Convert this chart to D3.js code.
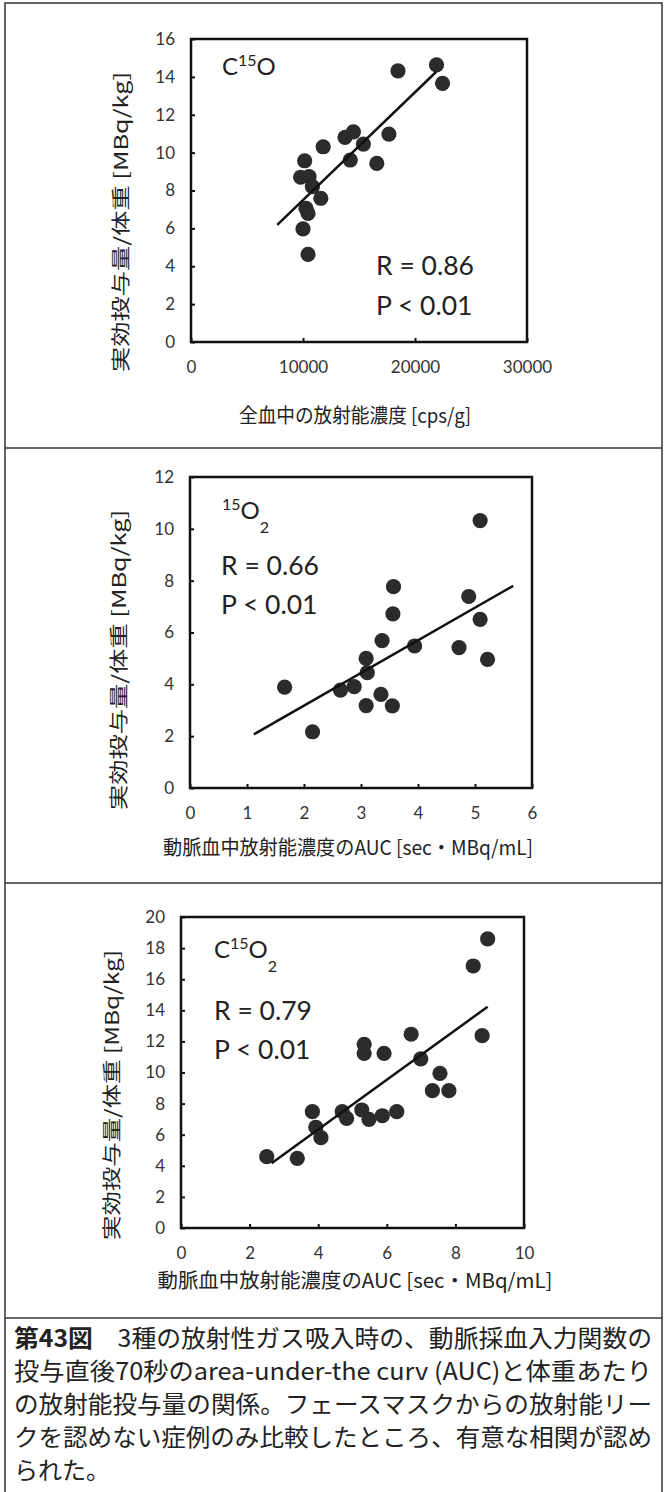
<!DOCTYPE html>
<html><head><meta charset="utf-8">
<script src="https://cdn.jsdelivr.net/npm/d3@7"></script>
<style>body{margin:0;background:#fff}svg{display:block}</style>
</head><body><svg id="c" width="668" height="1492"></svg>
<script>
// ---------- Panel 1: C15O ----------
const p1X = [18480, 21920, 22460, 10150, 11800, 9790, 10540, 10840, 11590, 10270, 10450, 10000, 10450, 13750, 14500, 14220, 15390, 16590, 17670];
const p1Y = [14.32, 14.63, 13.66, 9.57, 10.31, 8.70, 8.73, 8.20, 7.59, 7.06, 6.79, 5.97, 4.63, 10.81, 11.10, 9.61, 10.45, 9.43, 10.98];
const p1FitX = [7700, 21900];
const p1FitY = [6.18, 14.27];
const p1XTicks = [0, 10000, 20000, 30000];
const p1YTicks = [0, 2, 4, 6, 8, 10, 12, 14, 16];

// ---------- Panel 2: 15O2 ----------
const p2X = [1.66, 2.15, 2.64, 2.88, 3.09, 3.11, 3.09, 3.37, 3.35, 3.57, 3.56, 3.55, 3.94, 4.72, 4.89, 5.09, 5.09, 5.22];
const p2Y = [3.89, 2.17, 3.78, 3.91, 5.00, 4.45, 3.18, 5.69, 3.61, 7.77, 6.72, 3.17, 5.48, 5.42, 7.39, 6.51, 10.32, 4.96];
const p2FitX = [1.12, 5.67];
const p2FitY = [2.07, 7.80];
const p2XTicks = [0, 1, 2, 3, 4, 5, 6];
const p2YTicks = [0, 2, 4, 6, 8, 10, 12];

// ---------- Panel 3: C15O2 ----------
const p3X = [8.94, 8.52, 8.78, 6.71, 6.99, 5.34, 5.34, 5.92, 7.55, 7.33, 7.81, 6.29, 5.87, 5.48, 5.27, 4.83, 4.70, 3.83, 3.93, 4.08, 2.50, 3.39];
const p3Y = [18.59, 16.85, 12.37, 12.46, 10.87, 11.81, 11.23, 11.23, 9.95, 8.83, 8.83, 7.48, 7.22, 6.99, 7.59, 7.05, 7.48, 7.48, 6.48, 5.81, 4.59, 4.48];
const p3FitX = [2.64, 8.94];
const p3FitY = [4.16, 14.23];
const p3XTicks = [0, 2, 4, 6, 8, 10];
const p3YTicks = [0, 2, 4, 6, 8, 10, 12, 14, 16, 18, 20];

// ---------- Texts ----------
const yLabel = "実効投与量/体重 [MBq/kg]";
const xLabel1 = "全血中の放射能濃度 [cps/g]";
const xLabel2 = "動脈血中放射能濃度のAUC [sec・MBq/mL]";
const stats = [["R = 0.86", "P < 0.01"], ["R = 0.66", "P < 0.01"], ["R = 0.79", "P < 0.01"]];
const captionHead = "第43図";
const captionLines = [
  "　3種の放射性ガス吸入時の、動脈採血入力関数の",
  "投与直後70秒のarea-under-the curv (AUC)と体重あたり",
  "の放射能投与量の関係。フェースマスクからの放射能リー",
  "クを認めない症例のみ比較したところ、有意な相関が認め",
  "られた。"
];

const svg = d3.select("#c");
const NUM = "Lato, 'Open Sans', sans-serif";
const CJK = "'Noto Sans CJK JP', 'Noto Sans', sans-serif";
const INK = "#222";

// outer frame and dividers
svg.append("rect").attr("x", 5).attr("y", 3).attr("width", 657).attr("height", 1500)
  .attr("fill", "none").attr("stroke", "#333").attr("stroke-width", 1.5);
[448, 883, 1318].forEach(v => svg.append("line").attr("x1", 5).attr("x2", 662)
  .attr("y1", v).attr("y2", v).attr("stroke", "#333").attr("stroke-width", 1.5));

function panel(cfg) {
  const x = d3.scaleLinear().domain(cfg.xDom).range([cfg.L, cfg.R]);
  const y = d3.scaleLinear().domain(cfg.yDom).range([cfg.B, cfg.T]);
  const g = svg.append("g");

  const ax = g.append("g").attr("transform", `translate(0,${cfg.B})`)
    .call(d3.axisBottom(x).tickValues(cfg.xTicks).tickSizeInner(-4).tickSizeOuter(0).tickPadding(19).tickFormat(d3.format("d")));
  const ay = g.append("g").attr("transform", `translate(${cfg.L},0)`)
    .call(d3.axisLeft(y).tickValues(cfg.yTicks).tickSizeInner(-4).tickSizeOuter(0).tickPadding(16).tickFormat(d3.format("d")));
  [ax, ay].forEach(a => {
    a.select(".domain").remove();
    a.selectAll("line").attr("stroke", "#111").attr("stroke-width", 2);
    a.selectAll("text").attr("font-family", NUM).attr("font-size", 17).attr("fill", "#333");
  });

  g.append("rect").attr("x", cfg.L).attr("y", cfg.T).attr("width", cfg.R - cfg.L).attr("height", cfg.B - cfg.T)
    .attr("fill", "none").attr("stroke", "#111").attr("stroke-width", 2.5);

  g.append("g").selectAll("circle").data(cfg.xs.map((v, i) => [v, cfg.ys[i]])).join("circle")
    .attr("cx", d => x(d[0])).attr("cy", d => y(d[1])).attr("r", 7.6).attr("fill", "#2b2b2b");

  g.append("line").attr("x1", x(cfg.fitX[0])).attr("y1", y(cfg.fitY[0]))
    .attr("x2", x(cfg.fitX[1])).attr("y2", y(cfg.fitY[1])).attr("stroke", "#111").attr("stroke-width", 2.5);

  // y label
  g.append("text").attr("transform", `translate(${cfg.ylx},${cfg.ylc}) rotate(-90)`)
    .attr("text-anchor", "middle").attr("dy", "0.35em").attr("font-family", CJK).attr("font-size", 19)
    .attr("fill", INK).attr("textLength", cfg.yll).attr("lengthAdjust", "spacingAndGlyphs").text(yLabel);
  // x label
  g.append("text").attr("x", cfg.xlx).attr("y", cfg.xly).attr("text-anchor", "middle")
    .attr("font-family", CJK).attr("font-size", 20).attr("fill", INK)
    .attr("textLength", cfg.xll).attr("lengthAdjust", "spacingAndGlyphs").text(cfg.xLabel);

  // gas label
  const t = g.append("text").attr("x", cfg.gx).attr("y", cfg.gy).attr("font-family", NUM).attr("font-size", 24).attr("fill", INK);
  cfg.gas.forEach(p => {
    const ts = t.append("tspan").text(p[0]);
    if (p[1] === "sup") ts.attr("font-size", 16).attr("dy", -9);
    else if (p[1] === "sub") ts.attr("font-size", 16).attr("dy", 14);
    else if (p[1] === "back") ts.attr("dy", 9);
  });
  // stats
  cfg.stats.forEach((s, i) => g.append("text").attr("x", cfg.sx).attr("y", cfg.sy[i])
    .attr("font-family", NUM).attr("font-size", 26.5).attr("fill", INK).text(s));
}

panel({xDom: [0, 30000], yDom: [0, 16], L: 191, R: 527, T: 39, B: 342,
  xs: p1X, ys: p1Y, fitX: p1FitX, fitY: p1FitY, xTicks: p1XTicks, yTicks: p1YTicks,
  ylx: 121, ylc: 222, yll: 300, xLabel: xLabel1, xlx: 355, xly: 423, xll: 232,
  gas: [["C", ""], ["15", "sup"], ["O", "back"]], gx: 222, gy: 75,
  stats: stats[0], sx: 376, sy: [275, 315]});

panel({xDom: [0, 6], yDom: [0, 12], L: 190, R: 532, T: 477, B: 788,
  xs: p2X, ys: p2Y, fitX: p2FitX, fitY: p2FitY, xTicks: p2XTicks, yTicks: p2YTicks,
  ylx: 119, ylc: 660, yll: 300, xLabel: xLabel2, xlx: 348, xly: 855, xll: 370,
  gas: [["15", "sup"], ["O", "back"], ["2", "sub"]], gx: 222, gy: 519,
  stats: stats[1], sx: 221, sy: [575, 614]});

panel({xDom: [0, 10], yDom: [0, 20], L: 181, R: 524, T: 917, B: 1228,
  xs: p3X, ys: p3Y, fitX: p3FitX, fitY: p3FitY, xTicks: p3XTicks, yTicks: p3YTicks,
  ylx: 112, ylc: 1095, yll: 290, xLabel: xLabel2, xlx: 355, xly: 1288, xll: 395,
  gas: [["C", ""], ["15", "sup"], ["O", "back"], ["2", "sub"]], gx: 214, gy: 958,
  stats: stats[2], sx: 214, sy: [1020, 1059]});

// caption
const capBase = [1347, 1380, 1413, 1446, 1479];
captionLines.forEach((line, i) => {
  const t = svg.append("text").attr("x", 14).attr("y", capBase[i]).attr("font-family", CJK)
    .attr("font-size", 24).attr("fill", INK);
  if (i === 0) t.append("tspan").attr("font-weight", "bold").text(captionHead);
  t.append("tspan").text(line);
  if (i < 4) t.attr("textLength", 638).attr("lengthAdjust", "spacingAndGlyphs");
});
</script></body></html>
